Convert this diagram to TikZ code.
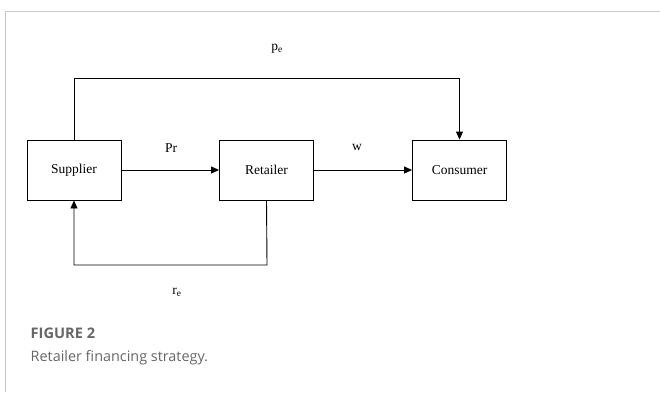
\documentclass[tikz,border=0pt]{standalone}
\usepackage{fontspec}
\setmainfont{Liberation Serif}
\newfontfamily\captionfont{Open Sans}
\usepackage{tikz}
\usetikzlibrary{arrows.meta,positioning}
\definecolor{framegray}{HTML}{C8C8C8}
\definecolor{captiongray}{HTML}{666666}
\tikzstyle{block}    = [rectangle,
                        draw,
                        line width=0.9pt,
                        minimum width=94pt,
                        minimum height=60pt,
                        font=\fontsize{13.5}{15}\selectfont,
                        inner sep=0pt]
\tikzstyle{line}     = [draw, line width=0.9pt, -{Triangle[length=8pt,width=7pt]}]
\tikzstyle{flow}     = [font=\fontsize{13.5}{15}\selectfont, inner sep=0pt]

\begin{document}
\begin{tikzpicture}[%
  x=1pt, y=-1pt,
  node distance = 193pt
  ]
  \useasboundingbox (0,0) rectangle (660,392);

  % Frame:
  \draw[framegray, line width=1.2pt] (660,11.5) -- (5.5,11.5) -- (5.5,392);

  % Nodes:
  \node (t-supplier) [block] at (74,170) {Supplier};
  \node (t-retailer) [block, right of=t-supplier, xshift=-0.5pt] {Retailer};
  \node (t-consumer) [block, right of=t-retailer] {Consumer};

  \coordinate (t-top) at (74,78);
  \coordinate (t-bottom) at (267,265);

  % Labels:
  \node (l-pe) [flow] at (277,49) {p\textsubscript{e}};
  \node (l-pr) [flow] at (171,148) {Pr};
  \node (l-w)  [flow] at (357,147) {w};
  \node (l-re) [flow] at (177,292) {r\textsubscript{e}};

  % Connectors:
  \draw[line] (t-supplier) -- (t-retailer);
  \draw[line] (t-retailer) -- (t-consumer);
  \draw[line] (t-supplier.north) -- (t-top) -| (t-consumer.north);
  \draw[line] (t-retailer.south) -- (t-bottom) -| (t-supplier.south);

  % Caption:
  \node (c-title) [anchor=west, inner sep=0pt, text=captiongray,
    font=\captionfont\fontsize{14.6}{16}\selectfont\bfseries] at (30.5,333) {FIGURE 2};
  \node (c-text) [anchor=west, inner sep=0pt, text=captiongray,
    font=\captionfont\fontsize{14.4}{16}\selectfont] at (30.5,358) {Retailer financing strategy.};
\end{tikzpicture}
\end{document}
